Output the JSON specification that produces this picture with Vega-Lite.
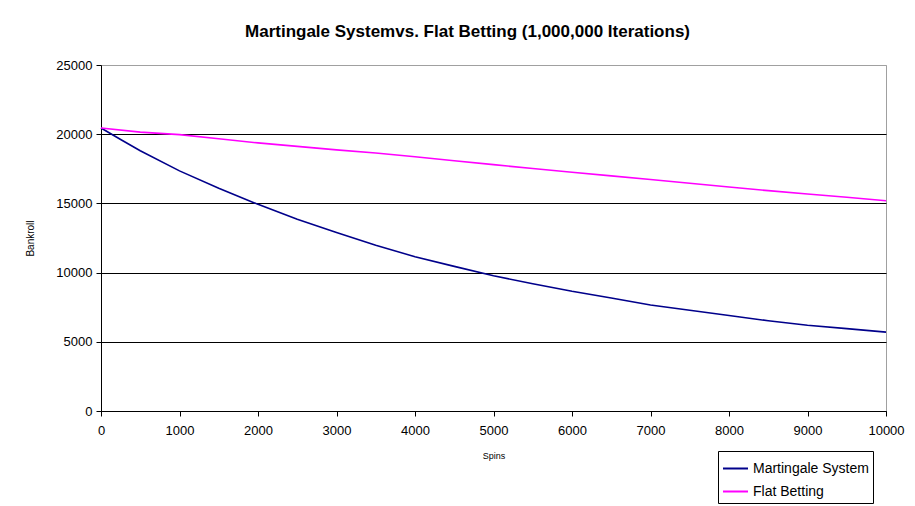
{
  "$schema": "https://vega.github.io/schema/vega-lite/v6.json",
  "width": 785,
  "height": 346,
  "autosize": {"type": "none"},
  "padding": {"left": 101, "top": 65, "right": 29, "bottom": 95},
  "background": "white",
  "title": {
    "text": "Martingale Systemvs. Flat Betting (1,000,000 Iterations)",
    "font": "Liberation Sans",
    "fontSize": 17,
    "fontWeight": "bold",
    "color": "black",
    "anchor": "middle",
    "dx": -26,
    "offset": 18
  },
  "config": {
    "view": {"stroke": "#a0a0a0", "strokeWidth": 1},
    "font": "Liberation Sans"
  },
  "data": {
    "values": [
      {"spins": 0, "bankroll": 20450, "series": "Martingale System"},
      {"spins": 250, "bankroll": 19620, "series": "Martingale System"},
      {"spins": 500, "bankroll": 18800, "series": "Martingale System"},
      {"spins": 1000, "bankroll": 17350, "series": "Martingale System"},
      {"spins": 1500, "bankroll": 16100, "series": "Martingale System"},
      {"spins": 2000, "bankroll": 14930, "series": "Martingale System"},
      {"spins": 2500, "bankroll": 13850, "series": "Martingale System"},
      {"spins": 3000, "bankroll": 12900, "series": "Martingale System"},
      {"spins": 3500, "bankroll": 11970, "series": "Martingale System"},
      {"spins": 4000, "bankroll": 11150, "series": "Martingale System"},
      {"spins": 4500, "bankroll": 10450, "series": "Martingale System"},
      {"spins": 5000, "bankroll": 9770, "series": "Martingale System"},
      {"spins": 5500, "bankroll": 9200, "series": "Martingale System"},
      {"spins": 6000, "bankroll": 8650, "series": "Martingale System"},
      {"spins": 6500, "bankroll": 8170, "series": "Martingale System"},
      {"spins": 7000, "bankroll": 7660, "series": "Martingale System"},
      {"spins": 7500, "bankroll": 7280, "series": "Martingale System"},
      {"spins": 8000, "bankroll": 6900, "series": "Martingale System"},
      {"spins": 8500, "bankroll": 6520, "series": "Martingale System"},
      {"spins": 9000, "bankroll": 6200, "series": "Martingale System"},
      {"spins": 9500, "bankroll": 5950, "series": "Martingale System"},
      {"spins": 10000, "bankroll": 5700, "series": "Martingale System"},
      {"spins": 0, "bankroll": 20450, "series": "Flat Betting"},
      {"spins": 500, "bankroll": 20150, "series": "Flat Betting"},
      {"spins": 1000, "bankroll": 19970, "series": "Flat Betting"},
      {"spins": 1500, "bankroll": 19670, "series": "Flat Betting"},
      {"spins": 2000, "bankroll": 19370, "series": "Flat Betting"},
      {"spins": 2500, "bankroll": 19120, "series": "Flat Betting"},
      {"spins": 3000, "bankroll": 18870, "series": "Flat Betting"},
      {"spins": 3500, "bankroll": 18640, "series": "Flat Betting"},
      {"spins": 4000, "bankroll": 18370, "series": "Flat Betting"},
      {"spins": 4500, "bankroll": 18080, "series": "Flat Betting"},
      {"spins": 5000, "bankroll": 17800, "series": "Flat Betting"},
      {"spins": 5500, "bankroll": 17520, "series": "Flat Betting"},
      {"spins": 6000, "bankroll": 17250, "series": "Flat Betting"},
      {"spins": 6500, "bankroll": 16990, "series": "Flat Betting"},
      {"spins": 7000, "bankroll": 16730, "series": "Flat Betting"},
      {"spins": 7500, "bankroll": 16460, "series": "Flat Betting"},
      {"spins": 8000, "bankroll": 16190, "series": "Flat Betting"},
      {"spins": 8500, "bankroll": 15920, "series": "Flat Betting"},
      {"spins": 9000, "bankroll": 15680, "series": "Flat Betting"},
      {"spins": 9500, "bankroll": 15440, "series": "Flat Betting"},
      {"spins": 10000, "bankroll": 15190, "series": "Flat Betting"}
    ]
  },
  "mark": {"type": "line", "strokeWidth": 1.6, "interpolate": "linear"},
  "encoding": {
    "x": {
      "field": "spins",
      "type": "quantitative",
      "scale": {"domain": [0, 10000], "nice": false},
      "axis": {
        "title": "Spins",
        "titleFont": "Liberation Sans",
        "titleFontSize": 9,
        "titleFontWeight": "normal",
        "titleColor": "black",
        "titlePadding": 14,
        "values": [0, 1000, 2000, 3000, 4000, 5000, 6000, 7000, 8000, 9000, 10000],
        "format": "d",
        "labelFontSize": 13,
        "labelColor": "black",
        "labelPadding": 8,
        "labelOverlap": false,
        "labelFlush": false,
        "domainColor": "black",
        "domainWidth": 1,
        "tickColor": "black",
        "tickSize": 5,
        "grid": false
      }
    },
    "y": {
      "field": "bankroll",
      "type": "quantitative",
      "scale": {"domain": [0, 25000], "nice": false},
      "axis": {
        "title": "Bankroll",
        "titleFont": "Liberation Sans",
        "titleFontSize": 10,
        "titleFontWeight": "normal",
        "titleColor": "black",
        "titlePadding": 20,
        "values": [0, 5000, 10000, 15000, 20000, 25000],
        "format": "d",
        "labelFontSize": 13,
        "labelColor": "black",
        "labelPadding": 4,
        "domainColor": "black",
        "domainWidth": 1,
        "tickColor": "black",
        "tickSize": 5,
        "grid": true,
        "gridColor": {"condition": {"test": "datum.value == 25000", "value": "#a0a0a0"}, "value": "black"},
        "gridWidth": 1.2,
        "gridOpacity": 1
      }
    },
    "color": {
      "field": "series",
      "type": "nominal",
      "sort": ["Martingale System", "Flat Betting"],
      "scale": {"domain": ["Martingale System", "Flat Betting"], "range": ["#00008B", "#FF00FF"]},
      "legend": {
        "title": null,
        "orient": "none",
        "legendX": 617,
        "legendY": 386,
        "symbolType": "stroke",
        "symbolSize": 625,
        "symbolStrokeWidth": 2,
        "labelFontSize": 14,
        "labelColor": "black",
        "labelFont": "Liberation Sans",
        "strokeColor": "black",
        "fillColor": "white",
        "padding": 4,
        "rowPadding": 2,
        "labelOffset": 4
      }
    }
  }
}
